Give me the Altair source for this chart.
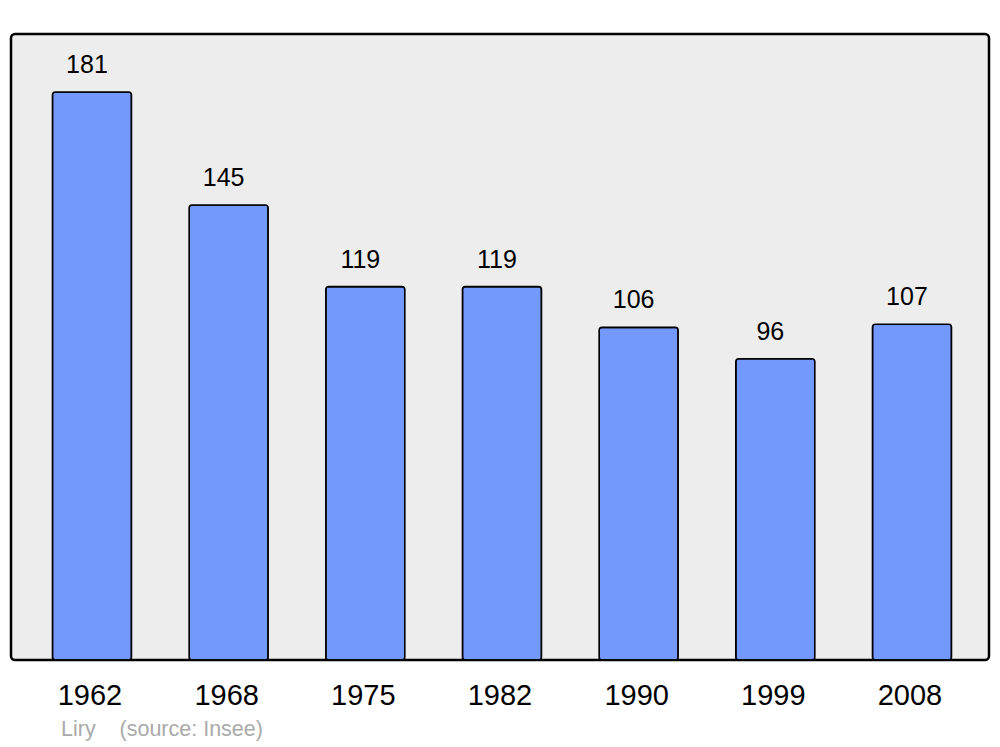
import altair as alt
import pandas as pd

years = ["1962", "1968", "1975", "1982", "1990", "1999", "2008"]
population = [181, 145, 119, 119, 106, 96, 107]

df = pd.DataFrame({"year": years, "pop": population})

x = alt.X("year:N", sort=years,
          scale=alt.Scale(paddingInner=0.422, paddingOuter=0.289, align=0.525),
          axis=alt.Axis(title=None, labelAngle=0, domain=False, ticks=False,
                        labelFontSize=29, labelFont="Liberation Sans",
                        labelColor="#000000", labelPadding=21, labelOffset=-2))
y = alt.Y("pop:Q", scale=alt.Scale(domain=[0, 199.5], nice=False, zero=True),
          axis=None)

bars = alt.Chart(df).mark_bar(
    fill="#7399ff", stroke="#000000", strokeWidth=1.6, cornerRadius=3
).encode(x=x, y=y)

labels = alt.Chart(df).mark_text(
    fontSize=25, font="Liberation Sans", color="#000000",
    baseline="alphabetic", dy=-19, dx=-5
).encode(x=x, y=y, text="pop:Q")

chart = alt.layer(bars, labels).properties(
    width=978, height=626,
    autosize=alt.AutoSizeParams(type="none"),
    padding={"left": 3, "top": 26, "right": 3, "bottom": 86},
    title=alt.TitleParams(
        text="Liry\u00a0\u00a0\u00a0\u00a0(source: Insee)",
        orient="bottom", anchor="start", dx=50, offset=9,
        fontSize=21.5, font="Liberation Sans", fontWeight="normal",
        color="#aaaaaa", baseline="top"
    )
).configure_view(
    fill="#ededed", stroke="#000000", strokeWidth=2.5, cornerRadius=4
)

chart.save("out.html", embed_options={"renderer": "svg", "actions": False})
